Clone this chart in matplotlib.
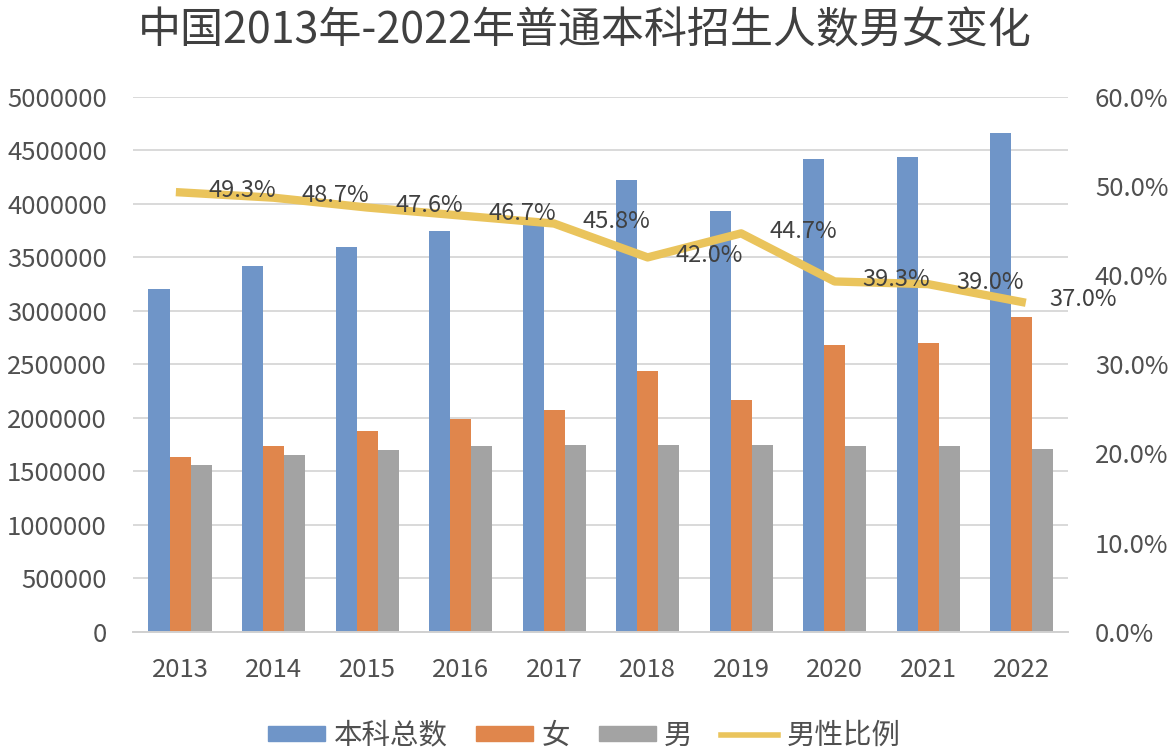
import matplotlib.pyplot as plt
import numpy as np
from matplotlib.lines import Line2D
from matplotlib.patches import Patch

plt.rcParams['font.family'] = ['Noto Sans CJK SC', 'DejaVu Sans']

years = ['2013', '2014', '2015', '2016', '2017', '2018', '2019', '2020', '2021', '2022']
total = [3200000, 3420000, 3600000, 3750000, 3810000, 4220000, 3930000, 4420000, 4440000, 4660000]
female = [1630000, 1740000, 1880000, 1990000, 2070000, 2440000, 2170000, 2680000, 2700000, 2940000]
male = [1560000, 1650000, 1700000, 1740000, 1750000, 1750000, 1750000, 1740000, 1740000, 1710000]
male_ratio = [49.3, 48.7, 47.6, 46.7, 45.8, 42.0, 44.7, 39.3, 39.0, 37.0]

c_blue = '#6f95c8'
c_orange = '#e0864c'
c_gray = '#a3a3a3'
c_yellow = '#eac45c'
c_text = '#505050'

fig = plt.figure(figsize=(11.69, 7.52), dpi=100)
ax = fig.add_axes([0.114, 0.160, 0.800, 0.711])
ax2 = ax.twinx()

x = np.arange(len(years))
w = 0.225
ax.bar(x - w, total, w, color=c_blue, zorder=2)
ax.bar(x, female, w, color=c_orange, zorder=2)
ax.bar(x + w, male, w, color=c_gray, zorder=2)

ax.set_xlim(-0.5, len(years) - 0.5)
ax.set_ylim(0, 5000000)
ax.set_yticks(np.arange(0, 5000001, 500000))
ax.set_yticklabels([str(v) for v in range(0, 5000001, 500000)])
ax.set_xticks(x)
ax.set_xticklabels(years)
ax.grid(axis='y', color='#d9d9d9', linewidth=1.4, zorder=0)
ax.set_axisbelow(True)
for s in ['top', 'left', 'right']:
    ax.spines[s].set_visible(False)
ax.spines['bottom'].set_color('#d0d0d0')
ax.spines['bottom'].set_linewidth(1.4)
ax.tick_params(axis='both', length=0, labelsize=18.5, colors=c_text)
ax.tick_params(axis='y', pad=19)
ax.tick_params(axis='x', pad=18)

ax2.plot(x, male_ratio, color=c_yellow, linewidth=6, solid_joinstyle='round', zorder=3)
ax2.set_ylim(0, 60)
ax2.set_yticks(np.arange(0, 61, 10))
ax2.set_yticklabels(['%.1f%%' % v for v in range(0, 61, 10)])
ax2.tick_params(axis='y', length=0, labelsize=18.5, colors=c_text, pad=19)
for s in ax2.spines.values():
    s.set_visible(False)

for xi, r in zip(x, male_ratio):
    ax2.annotate('%.1f%%' % r, (xi, r), xytext=(28, 2), textcoords='offset pixels',
                 ha='left', va='center', fontsize=17, color='#404040', zorder=4)

fig.text(0.5, 0.958, '中国2013年-2022年普通本科招生人数男女变化', ha='center', va='center',
         fontsize=31, color='#404040')

handles = [Patch(color=c_blue), Patch(color=c_orange), Patch(color=c_gray),
           Line2D([], [], color=c_yellow, linewidth=4)]
labels = ['本科总数', '女', '男', '男性比例']
fig.legend(handles, labels, loc='center', bbox_to_anchor=(0.5, 0.022), ncol=4, frameon=False,
           fontsize=20.5, handlelength=2.0, handleheight=0.45, columnspacing=1.0,
           handletextpad=0.3, labelcolor=c_text)

fig.savefig('out.png', dpi=100)
